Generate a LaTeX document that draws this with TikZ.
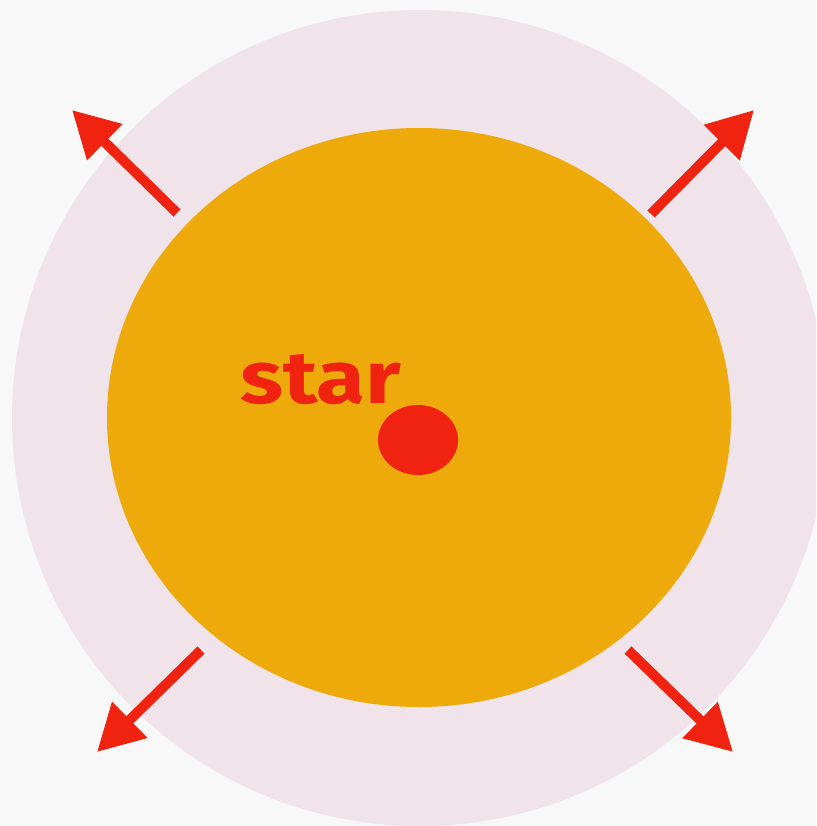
\documentclass[tikz,border=0pt]{standalone}
\usepackage{fontspec}
\setmainfont{Fira Sans}
\usetikzlibrary{arrows.meta,positioning}
\definecolor{bgcol}{HTML}{F8F8F8}
\definecolor{halocol}{HTML}{F0E3EA}
\definecolor{corecol}{HTML}{EEAA0A}
\definecolor{redcol}{HTML}{EF2310}
\tikzset{
  blast/.style={draw=redcol,line width=10pt,
                -{Triangle[length=46pt,width=48pt]}},
  label/.style={text=redcol,font=\fontsize{74}{74}\selectfont\bfseries,
                inner sep=0pt,anchor=base west},
}

\begin{document}
\begin{tikzpicture}[x=1pt,y=-1pt]
  \fill[bgcol] (0,0) rectangle (816,826);
  \useasboundingbox (0,0) rectangle (816,826);
  % halo and star body
  \begin{scope}
    \clip (0,0) rectangle (816,826);
    \fill[halocol] (420,418) circle[radius=408];
  \end{scope}
  \fill[corecol] (419,417.5) ellipse[x radius=312,y radius=289.5];
  \fill[redcol] (418,440) ellipse[x radius=40,y radius=35];
  \node[label,xscale=1.2] (name) at (240,403) {star};
  % outflow arrows
  \coordinate (ul0) at (177,213); \coordinate (ul1) at (72,110);
  \coordinate (ur0) at (651,214); \coordinate (ur1) at (754,110);
  \coordinate (ll0) at (201,650); \coordinate (ll1) at (97,752);
  \coordinate (lr0) at (628,650); \coordinate (lr1) at (733,752);
  \foreach \s in {ul,ur,ll,lr}
    \draw[blast] (\s0) -- (\s1);
\end{tikzpicture}
\end{document}
